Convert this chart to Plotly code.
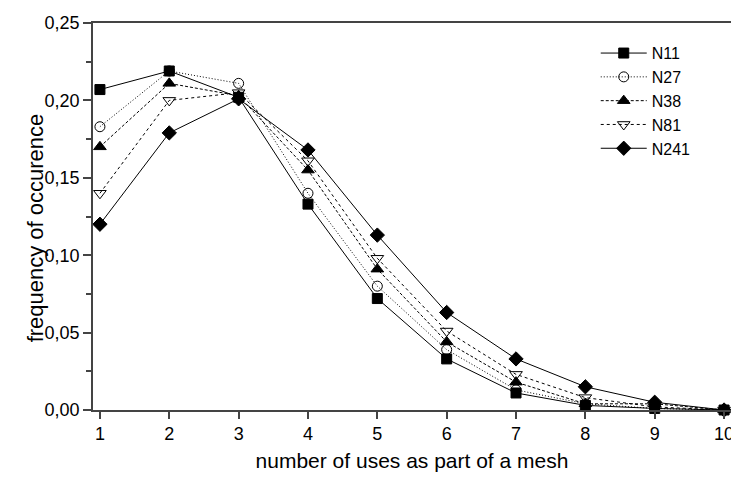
import plotly.graph_objects as go

x_vals = [1, 2, 3, 4, 5, 6, 7, 8, 9, 10]
N11 = [0.207, 0.219, 0.202, 0.133, 0.072, 0.033, 0.011, 0.003, 0.001, 0.000]
N27 = [0.183, 0.219, 0.211, 0.140, 0.080, 0.039, 0.013, 0.004, 0.001, 0.000]
N38 = [0.170, 0.211, 0.203, 0.155, 0.091, 0.044, 0.018, 0.004, 0.004, 0.000]
N81 = [0.140, 0.200, 0.205, 0.161, 0.098, 0.051, 0.023, 0.008, 0.002, 0.000]
N241 = [0.120, 0.179, 0.201, 0.168, 0.113, 0.063, 0.033, 0.015, 0.005, 0.000]
y_ticks = [0.00, 0.05, 0.10, 0.15, 0.20, 0.25]
y_tick_labels = ["0,00", "0,05", "0,10", "0,15", "0,20", "0,25"]

series = [
    ("N11", N11, "square", 10, "solid"),
    ("N27", N27, "circle-open", 10, "1px,2px"),
    ("N38", N38, "triangle-up", 11, "3px,2px"),
    ("N81", N81, "triangle-down-open", 11, "3px,3px"),
    ("N241", N241, "diamond", 11, "solid"),
]

FONT = "Liberation Sans, Arial, sans-serif"
fig = go.Figure()
for name, ys, sym, sz, dash in series:
    fig.add_trace(go.Scatter(
        x=x_vals, y=ys, name=name, mode="lines+markers", cliponaxis=False,
        line=dict(color="black", width=1, dash=dash),
        marker=dict(symbol=sym, size=sz, color="black",
                    line=dict(color="black", width=1)),
    ))

fig.update_layout(
    width=731, height=474,
    margin=dict(l=85, r=5, t=10, b=72),
    paper_bgcolor="white", plot_bgcolor="white",
    font=dict(family=FONT, size=18, color="black"),
    showlegend=True,
    legend=dict(x=0.788, y=0.966, xanchor="left", yanchor="top",
                bgcolor="rgba(0,0,0,0)", borderwidth=0,
                font=dict(size=16), tracegroupgap=0, itemwidth=46),
    annotations=[dict(
        text="frequency of occurence", textangle=-90,
        xref="paper", yref="paper", x=-0.0905, y=0.47,
        xanchor="center", yanchor="middle", showarrow=False,
        font=dict(size=22, family=FONT, color="black"),
    )],
)
fig.update_xaxes(
    range=[0.9, 10.1], tickmode="array", tickvals=x_vals,
    showgrid=False, zeroline=False,
    showline=True, linecolor="#444", linewidth=1.5, mirror=True,
    ticks="outside", ticklen=7, tickwidth=1.5, tickcolor="#444",
    tickfont=dict(size=18),
    title=dict(text="number of uses as part of a mesh", font=dict(size=21), standoff=10),
)
fig.update_yaxes(
    range=[0, 0.25], tickmode="array", tickvals=y_ticks, ticktext=y_tick_labels,
    showgrid=False, zeroline=False,
    showline=True, linecolor="#444", linewidth=1.5, mirror=True,
    ticks="outside", ticklen=8, tickwidth=1.5, tickcolor="#444",
    tickfont=dict(size=18),
    minor=dict(tickvals=[0.025, 0.075, 0.125, 0.175, 0.225], ticks="outside",
               ticklen=5, tickwidth=1.5, tickcolor="#444"),
)

fig.write_html("out.html")
